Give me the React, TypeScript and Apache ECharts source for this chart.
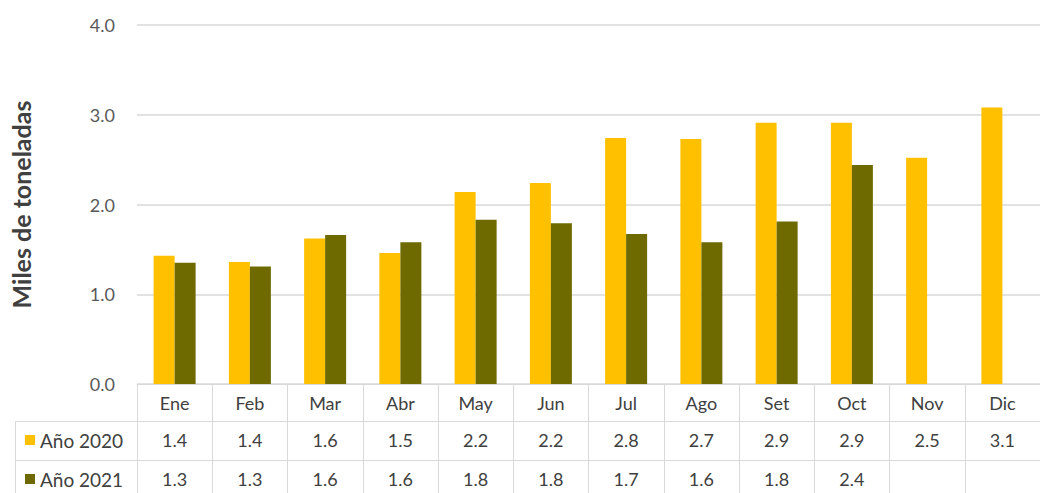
import React, { useEffect, useRef } from "react";
import * as echarts from "echarts";

const months = ["Ene", "Feb", "Mar", "Abr", "May", "Jun", "Jul", "Ago", "Set", "Oct", "Nov", "Dic"];
const values2020 = [1.43, 1.36, 1.62, 1.46, 2.14, 2.24, 2.74, 2.73, 2.91, 2.91, 2.52, 3.08];
const values2021 = [1.35, 1.31, 1.66, 1.58, 1.83, 1.79, 1.67, 1.58, 1.81, 2.44, null, null];
const table2020 = ["1.4", "1.4", "1.6", "1.5", "2.2", "2.2", "2.8", "2.7", "2.9", "2.9", "2.5", "3.1"];
const table2021 = ["1.3", "1.3", "1.6", "1.6", "1.8", "1.8", "1.7", "1.6", "1.8", "2.4", "", ""];
const yTicks = [0, 1, 2, 3, 4];
const seriesNames = ["Año 2020", "Año 2021"];
const yTitle = "Miles de toneladas";

const FONT = "Lato, 'Open Sans', sans-serif";
const LINE = "#d9d9d9";
const TEXT = "#404040";
const C2020 = "#FFC000";
const C2021 = "#6E6A00";
const FS = 18;

export default function App() {
  const ref = useRef<HTMLDivElement>(null);
  useEffect(() => {
    if (!ref.current) return;
    const chart = echarts.init(ref.current, null, { renderer: "svg" });
    const tableAxis = (offset: number, labels: string[] | null, tickLen: number) => ({
      type: "category",
      data: months,
      position: "bottom",
      offset,
      axisLine: { show: true, lineStyle: { color: LINE, width: 1 } },
      axisTick: { show: true, interval: 0, length: tickLen, lineStyle: { color: LINE, width: 1 } },
      axisLabel: {
        interval: 0,
        margin: 19,
        verticalAlign: "middle",
        color: TEXT,
        fontFamily: FONT,
        fontSize: FS,
        formatter: labels ? (_v: string, i: number) => labels[i] : undefined,
      },
    });
    const legendBase = {
      left: 25,
      padding: 0,
      icon: "rect",
      itemWidth: 10,
      itemHeight: 10,
      itemGap: 6,
      textStyle: { color: TEXT, fontSize: 19, fontFamily: FONT, lineHeight: 20 },
    };
    chart.setOption({
      animation: false,
      textStyle: { fontFamily: FONT },
      grid: { left: 137, top: 25, width: 912, height: 359, containLabel: false },
      legend: [
        { ...legendBase, data: [seriesNames[0]], top: 430 },
        { ...legendBase, data: [seriesNames[1]], top: 469 },
      ],
      xAxis: [tableAxis(0, null, 37), tableAxis(37, table2020, 39), tableAxis(76, table2021, 40)],
      yAxis: {
        type: "value",
        min: 0,
        max: 4,
        interval: 1,
        name: yTitle,
        nameLocation: "middle",
        nameRotate: 90,
        nameGap: 104,
        nameTextStyle: { color: TEXT, fontWeight: "bold", fontSize: 25, fontFamily: FONT },
        axisLine: { show: false },
        axisTick: { show: false },
        splitLine: { lineStyle: { color: LINE, width: 1.5 } },
        axisLabel: {
          margin: 22,
          color: "#595959",
          fontSize: FS,
          fontFamily: FONT,
          formatter: (v: number) => (yTicks.includes(v) ? v.toFixed(1) : ""),
        },
      },
      graphic: [
        { type: "line", shape: { x1: 15, y1: 421.5, x2: 137, y2: 421.5 }, style: { stroke: LINE, lineWidth: 1 } },
        { type: "line", shape: { x1: 15, y1: 460.5, x2: 137, y2: 460.5 }, style: { stroke: LINE, lineWidth: 1 } },
        { type: "line", shape: { x1: 15.5, y1: 421.5, x2: 15.5, y2: 500 }, style: { stroke: LINE, lineWidth: 1 } },
      ],
      series: [
        {
          name: seriesNames[0],
          type: "bar",
          data: values2020,
          barWidth: 21,
          barGap: "0%",
          itemStyle: { color: C2020 },
        },
        {
          name: seriesNames[1],
          type: "bar",
          data: values2021,
          barWidth: 21,
          barGap: "0%",
          itemStyle: { color: C2021 },
        },
      ],
    });
    return () => chart.dispose();
  }, []);
  return (
    <div
      ref={ref}
      style={{ position: "fixed", left: 0, top: 0, width: 1040, height: 493, background: "#fff" }}
    />
  );
}
